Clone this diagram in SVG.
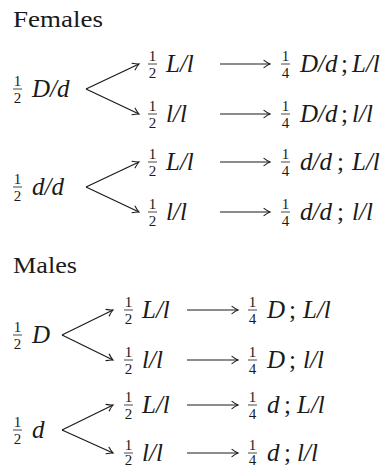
<svg xmlns="http://www.w3.org/2000/svg" width="392" height="468" viewBox="0 0 392 468" font-family="'Liberation Serif', 'Times New Roman', serif">
<defs>
<style>
text{font-family:'Liberation Serif','Times New Roman',serif;fill:#1a1a1a}
.h{font-size:24px}
.m{font-size:25px;font-style:italic}
.p{font-size:25px}
.n{font-size:15px;text-anchor:middle}
.bar{stroke:#1a1a1a;stroke-width:0.8}
.c{stroke:#1a1a1a;stroke-width:1.2;fill:none;marker-end:url(#ah)}
</style>
<marker id="ah" viewBox="-8 -5 10 10" refX="0" refY="0" markerWidth="10" markerHeight="10" markerUnits="userSpaceOnUse" orient="auto">
<path d="M-6,-3.6 Q-2.5,-1 0,0 Q-2.5,1 -6,3.6" fill="none" stroke="#1a1a1a" stroke-width="1.1" stroke-linecap="round"/>
</marker>
</defs>
<rect width="392" height="468" fill="#fff"/>

<text class="h" x="13" y="27" textLength="90" lengthAdjust="spacingAndGlyphs">Females</text>
<text class="h" x="13" y="273" textLength="64" lengthAdjust="spacingAndGlyphs">Males</text>

<g id="connectors">
<path class="c" d="M86,89 L139,64"/>
<path class="c" d="M86,89 L139,114"/>
<path class="c" d="M220,64 L270,64"/>
<path class="c" d="M220,114 L270,114"/>
<path class="c" d="M86,187 L139,162"/>
<path class="c" d="M86,187 L139,212"/>
<path class="c" d="M220,162 L270,162"/>
<path class="c" d="M220,212 L270,212"/>
<path class="c" d="M62,335 L113,310"/>
<path class="c" d="M62,335 L113,360"/>
<path class="c" d="M187,310 L238,310"/>
<path class="c" d="M187,360 L238,360"/>
<path class="c" d="M62,430 L113,405"/>
<path class="c" d="M62,430 L113,453"/>
<path class="c" d="M187,405 L238,405"/>
<path class="c" d="M187,453 L238,453"/>
</g>

<g id="f-Dd">
<text class="n" x="17.5" y="85.5">1</text><line class="bar" x1="13" y1="89" x2="22" y2="89"/><text class="n" x="17.5" y="102.5">2</text>
<text class="m" x="32" y="97">D/d</text>
</g>
<g id="f-Dd-Ll">
<text class="n" x="152.5" y="60.5">1</text><line class="bar" x1="148" y1="64" x2="157" y2="64"/><text class="n" x="152.5" y="77.5">2</text>
<text class="m" x="166" y="72">L/l</text>
</g>
<g id="f-Dd-ll">
<text class="n" x="152.5" y="110.5">1</text><line class="bar" x1="148" y1="114" x2="157" y2="114"/><text class="n" x="152.5" y="127.5">2</text>
<text class="m" x="166" y="122">l/l</text>
</g>
<g id="f-Dd-Ll-r">
<text class="n" x="285.5" y="60.5">1</text><line class="bar" x1="281" y1="64" x2="290" y2="64"/><text class="n" x="285.5" y="77.5">4</text>
<text class="m" x="300" y="72">D/d</text><text class="p" x="341" y="72">;</text><text class="m" x="352" y="72">L/l</text>
</g>
<g id="f-Dd-ll-r">
<text class="n" x="285.5" y="110.5">1</text><line class="bar" x1="281" y1="114" x2="290" y2="114"/><text class="n" x="285.5" y="127.5">4</text>
<text class="m" x="300" y="122">D/d</text><text class="p" x="341" y="122">;</text><text class="m" x="352" y="122">l/l</text>
</g>

<g id="f-dd">
<text class="n" x="17.5" y="183.5">1</text><line class="bar" x1="13" y1="187" x2="22" y2="187"/><text class="n" x="17.5" y="200.5">2</text>
<text class="m" x="32" y="195">d/d</text>
</g>
<g id="f-dd-Ll">
<text class="n" x="152.5" y="158.5">1</text><line class="bar" x1="148" y1="162" x2="157" y2="162"/><text class="n" x="152.5" y="175.5">2</text>
<text class="m" x="166" y="170">L/l</text>
</g>
<g id="f-dd-ll">
<text class="n" x="152.5" y="208.5">1</text><line class="bar" x1="148" y1="212" x2="157" y2="212"/><text class="n" x="152.5" y="225.5">2</text>
<text class="m" x="166" y="220">l/l</text>
</g>
<g id="f-dd-Ll-r">
<text class="n" x="285.5" y="158.5">1</text><line class="bar" x1="281" y1="162" x2="290" y2="162"/><text class="n" x="285.5" y="175.5">4</text>
<text class="m" x="300" y="170">d/d</text><text class="p" x="337" y="170">;</text><text class="m" x="352" y="170">L/l</text>
</g>
<g id="f-dd-ll-r">
<text class="n" x="285.5" y="208.5">1</text><line class="bar" x1="281" y1="212" x2="290" y2="212"/><text class="n" x="285.5" y="225.5">4</text>
<text class="m" x="300" y="220">d/d</text><text class="p" x="337" y="220">;</text><text class="m" x="352" y="220">l/l</text>
</g>

<g id="m-D">
<text class="n" x="17.5" y="331.5">1</text><line class="bar" x1="13" y1="335" x2="22" y2="335"/><text class="n" x="17.5" y="348.5">2</text>
<text class="m" x="32" y="343">D</text>
</g>
<g id="m-D-Ll">
<text class="n" x="128.5" y="306.5">1</text><line class="bar" x1="124" y1="310" x2="133" y2="310"/><text class="n" x="128.5" y="323.5">2</text>
<text class="m" x="142" y="318">L/l</text>
</g>
<g id="m-D-ll">
<text class="n" x="128.5" y="356.5">1</text><line class="bar" x1="124" y1="360" x2="133" y2="360"/><text class="n" x="128.5" y="373.5">2</text>
<text class="m" x="142" y="368">l/l</text>
</g>
<g id="m-D-Ll-r">
<text class="n" x="252.5" y="306.5">1</text><line class="bar" x1="248" y1="310" x2="257" y2="310"/><text class="n" x="252.5" y="323.5">4</text>
<text class="m" x="267" y="318">D</text><text class="p" x="289" y="318">;</text><text class="m" x="303" y="318">L/l</text>
</g>
<g id="m-D-ll-r">
<text class="n" x="252.5" y="356.5">1</text><line class="bar" x1="248" y1="360" x2="257" y2="360"/><text class="n" x="252.5" y="373.5">4</text>
<text class="m" x="267" y="368">D</text><text class="p" x="289" y="368">;</text><text class="m" x="303" y="368">l/l</text>
</g>

<g id="m-d">
<text class="n" x="17.5" y="426.5">1</text><line class="bar" x1="13" y1="430" x2="22" y2="430"/><text class="n" x="17.5" y="443.5">2</text>
<text class="m" x="32" y="438">d</text>
</g>
<g id="m-d-Ll">
<text class="n" x="128.5" y="401.5">1</text><line class="bar" x1="124" y1="405" x2="133" y2="405"/><text class="n" x="128.5" y="418.5">2</text>
<text class="m" x="142" y="413">L/l</text>
</g>
<g id="m-d-ll">
<text class="n" x="128.5" y="449.5">1</text><line class="bar" x1="124" y1="453" x2="133" y2="453"/><text class="n" x="128.5" y="465">2</text>
<text class="m" x="142" y="461">l/l</text>
</g>
<g id="m-d-Ll-r">
<text class="n" x="252.5" y="401.5">1</text><line class="bar" x1="248" y1="405" x2="257" y2="405"/><text class="n" x="252.5" y="418.5">4</text>
<text class="m" x="267" y="413">d</text><text class="p" x="284" y="413">;</text><text class="m" x="297" y="413">L/l</text>
</g>
<g id="m-d-ll-r">
<text class="n" x="252.5" y="449.5">1</text><line class="bar" x1="248" y1="453" x2="257" y2="453"/><text class="n" x="252.5" y="465">4</text>
<text class="m" x="267" y="461">d</text><text class="p" x="284" y="461">;</text><text class="m" x="297" y="461">l/l</text>
</g>
</svg>
